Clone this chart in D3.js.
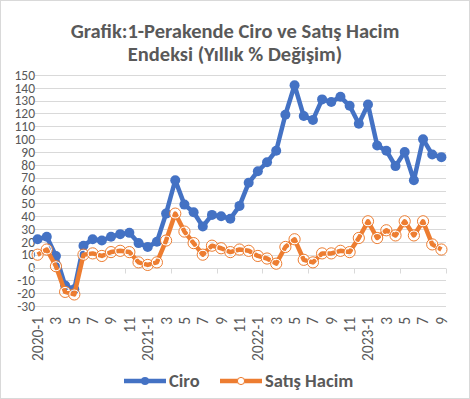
<!DOCTYPE html>
<html lang="tr">
<head>
<meta charset="utf-8">
<script src="https://d3js.org/d3.v7.min.js"></script>
<style>
  body { margin: 0; background: #fff; }
  svg text { font-family: Calibri, Carlito, "Open Sans", sans-serif; fill: #595959; }
</style>
</head>
<body>
<svg id="chart" width="470" height="399"></svg>
<script>
// months 2020-1 .. 2023-9
var months = [];
[2020, 2021, 2022, 2023].forEach(function (y) {
  for (var m = 1; m <= 12; m++) {
    if (y === 2023 && m > 9) break;
    months.push(y + "-" + m);
  }
});

var ciro = [22, 24, 9, -14, -17, 17, 22, 21, 24, 26, 27, 19, 16, 20, 42, 68, 49, 43, 32, 41, 40, 38, 48,
  66, 75, 82, 91, 119, 142, 118, 115, 131, 129, 133, 126, 112, 127, 95, 91, 79, 90, 68, 100, 88, 86];
var satisHacim = [10, 14, 1, -19, -21, 10, 11, 9, 12, 13, 12, 4, 2, 4, 21, 42, 28, 19, 10, 17, 15, 12, 14,
  13, 9, 7, 3, 16, 22, 6, 4, 11, 11, 13, 12, 23, 36, 23, 29, 25, 36, 25, 36, 18, 14];
var yTicks = d3.range(-30, 151, 10);

var svg = d3.select("#chart");

// chart border
svg.append("rect")
  .attr("x", 0.5).attr("y", 0.5).attr("width", 469).attr("height", 398)
  .attr("fill", "#fff").attr("stroke", "#d9d9d9");

// title
var title = svg.append("text").attr("text-anchor", "middle")
  .style("font-size", "20.5px").style("font-weight", 700);
title.append("tspan").attr("x", 235).attr("y", 38).text("Grafik:1-Perakende Ciro ve Satış Hacim");
title.append("tspan").attr("x", 235).attr("y", 61).text("Endeksi (Yıllık % Değişim)");

var x = d3.scaleBand().domain(months).range([33, 446]);
var y = d3.scaleLinear().domain([-30, 150]).range([306, 75]);

// gridlines
svg.append("g").selectAll("line").data(yTicks).enter().append("line")
  .attr("x1", 35).attr("x2", 446)
  .attr("y1", function (d) { return Math.round(y(d)) + 0.5; })
  .attr("y2", function (d) { return Math.round(y(d)) + 0.5; })
  .attr("stroke", "#d9d9d9").attr("stroke-width", 1);

// y labels
svg.append("g").selectAll("text").data(yTicks).enter().append("text")
  .attr("x", 35).attr("y", function (d) { return y(d); })
  .attr("dy", "0.35em").attr("text-anchor", "end")
  .style("font-size", "13.5px")
  .text(function (d) { return d; });

// category axis crossing at zero, tick marks every 5 categories
var y0 = Math.round(y(0)) + 0.5;
svg.append("line").attr("x1", 33).attr("x2", 446).attr("y1", y0).attr("y2", y0)
  .attr("stroke", "#d9d9d9");
svg.append("g").selectAll("line").data(d3.range(0, months.length + 1, 5)).enter().append("line")
  .attr("x1", function (i) { return Math.round(33 + i * x.step()) + 0.5; })
  .attr("x2", function (i) { return Math.round(33 + i * x.step()) + 0.5; })
  .attr("y1", y0).attr("y2", y0 + 5)
  .attr("stroke", "#d9d9d9");

// x labels, rotated, every second month
svg.append("g").selectAll("text")
  .data(months.filter(function (d, i) { return i % 2 === 0; }))
  .enter().append("text")
  .attr("transform", function (d) {
    return "translate(" + (x(d) + x.bandwidth() / 2) + ",317) rotate(-90)";
  })
  .attr("dy", "0.35em").attr("text-anchor", "end")
  .style("font-size", "15.5px")
  .text(function (d) { return d.split("-")[1] === "1" ? d : d.split("-")[1]; });

var cx = function (d, i) { return x(months[i]) + x.bandwidth() / 2; };
var line = d3.line().x(cx).y(function (d) { return y(d); });

// Ciro
svg.append("path").datum(ciro).attr("d", line)
  .attr("fill", "none").attr("stroke", "#4472c4").attr("stroke-width", 4.5)
  .attr("stroke-linejoin", "round");
svg.append("g").selectAll("circle").data(ciro).enter().append("circle")
  .attr("cx", cx).attr("cy", function (d) { return y(d); })
  .attr("r", 5).attr("fill", "#4472c4");

// Satış Hacim
svg.append("path").datum(satisHacim).attr("d", line)
  .attr("fill", "none").attr("stroke", "#ed7d31").attr("stroke-width", 4.5)
  .attr("stroke-linejoin", "round");
var sh = svg.append("g").selectAll("g").data(satisHacim).enter().append("g");
sh.append("circle").attr("cx", cx).attr("cy", function (d) { return y(d); })
  .attr("r", 4.6).attr("fill", "none").attr("stroke", "#fff").attr("stroke-width", 1.3);
sh.append("circle").attr("cx", cx).attr("cy", function (d) { return y(d); })
  .attr("r", 5.6).attr("fill", "none").attr("stroke", "#ed7d31").attr("stroke-width", 1);

// legend
var lg = svg.append("g");
lg.append("line").attr("x1", 124).attr("x2", 166).attr("y1", 381).attr("y2", 381)
  .attr("stroke", "#4472c4").attr("stroke-width", 4.5);
lg.append("circle").attr("cx", 145).attr("cy", 381).attr("r", 4).attr("fill", "#4472c4");
lg.append("text").attr("x", 169).attr("y", 381).attr("dy", "0.35em")
  .style("font-size", "18.5px").style("font-weight", 700).text("Ciro");
lg.append("line").attr("x1", 220).attr("x2", 262).attr("y1", 381).attr("y2", 381)
  .attr("stroke", "#ed7d31").attr("stroke-width", 4.5);
lg.append("circle").attr("cx", 241).attr("cy", 381).attr("r", 3.6)
  .attr("fill", "#fff").attr("stroke", "#ed7d31").attr("stroke-width", 1);
lg.append("text").attr("x", 265).attr("y", 381).attr("dy", "0.35em")
  .style("font-size", "18.5px").style("font-weight", 700).text("Satış Hacim");
</script>
</body>
</html>
